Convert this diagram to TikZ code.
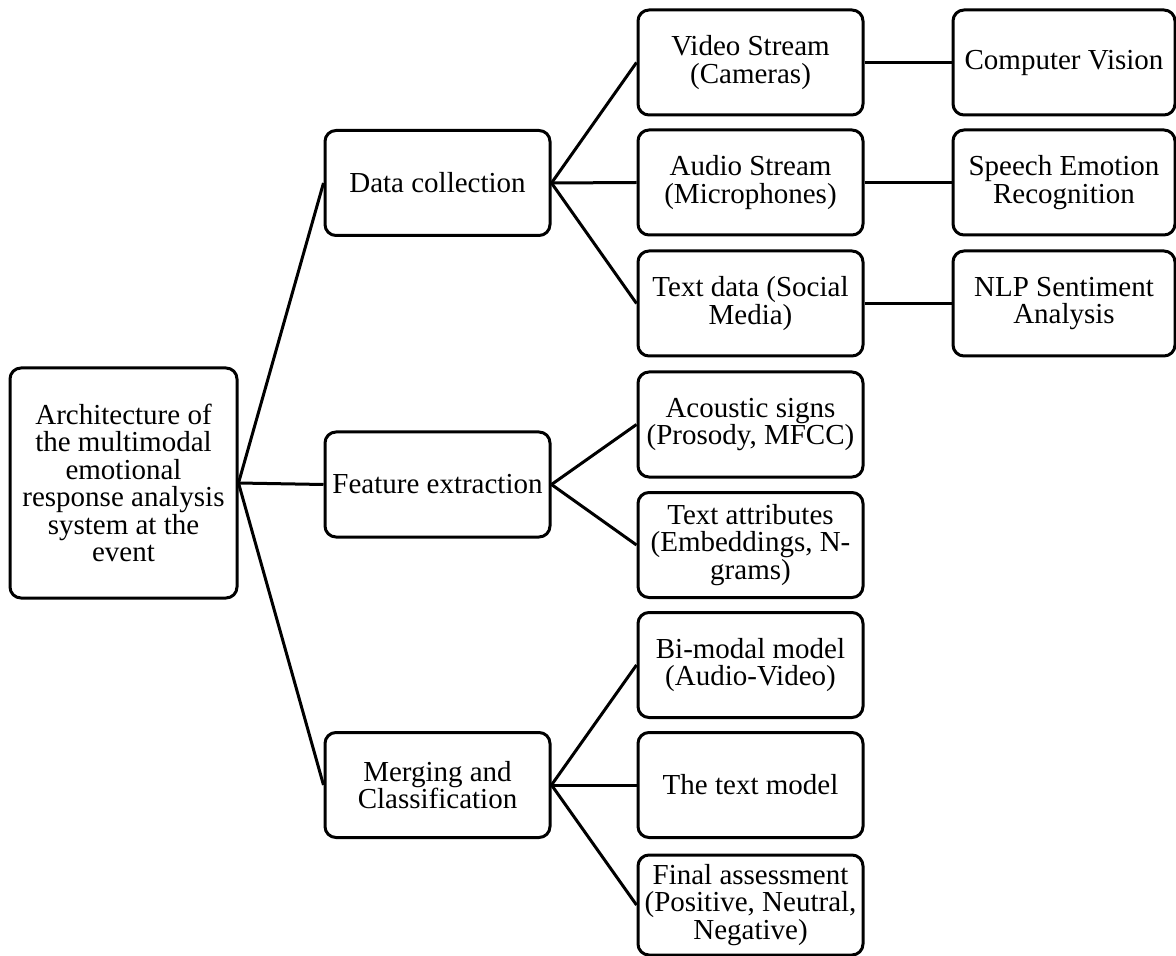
\documentclass[tikz,border=0pt]{standalone}
\usepackage{fontspec}
\setmainfont{Liberation Serif}
\usetikzlibrary{positioning}

\begin{document}
\begin{tikzpicture}[x=0.5pt, y=-0.5pt,
    box/.style={draw, line width=1.5pt, rounded corners=5.5pt, align=center, inner sep=0pt,
      minimum width=112.5pt, minimum height=52.5pt, font=\fontsize{14.5pt}{13.7pt}\selectfont},
    link/.style={line width=1.5pt}]
        \useasboundingbox (0,0) rectangle (1176,956);
        \node[box, minimum width=113.5pt, minimum height=115pt] (root) at (123.5,483) {Architecture of\\the multimodal\\emotional\\response analysis\\system at the\\event};
        \node[box] (collect) at (437.5,183) {Data collection};
        \node[box] (feature) at (437.5,484.5) {Feature extraction};
        \node[box] (merge) at (437.5,785) {Merging and\\Classification};
        \node[box] (video) at (750.5,62.5) {Video Stream\\(Cameras)};
        \node[box] (audio) at (750.5,182.5) {Audio Stream\\(Microphones)};
        \node[box] (textdata) at (750.5,303.5) {Text data (Social\\Media)};
        \node[box] (acoustic) at (750.5,424.5) {Acoustic signs\\(Prosody, MFCC)};
        \node[box] (textattr) at (750.5,545) {Text attributes\\(Embeddings, N-\\grams)};
        \node[box] (bimodal) at (750.5,665) {Bi-modal model\\(Audio-Video)};
        \node[box] (textmodel) at (750.5,785) {The text model};
        \node[box, minimum height=50pt] (final) at (750.5,905) {Final assessment\\(Positive, Neutral,\\Negative)};
        \node[box, minimum width=111pt] (vision) at (1064,62.5) {Computer Vision};
        \node[box, minimum width=111pt] (speech) at (1064,182.5) {Speech Emotion\\Recognition};
        \node[box, minimum width=111pt] (nlp) at (1064,303.5) {NLP Sentiment\\Analysis};
        \draw[link] (root.east) -- (collect.west);
        \draw[link] (root.east) -- (feature.west);
        \draw[link] (root.east) -- (merge.west);
        \draw[link] (collect.east) -- (video.west);
        \draw[link] (collect.east) -- (audio.west);
        \draw[link] (collect.east) -- (textdata.west);
        \draw[link] (feature.east) -- (acoustic.west);
        \draw[link] (feature.east) -- (textattr.west);
        \draw[link] (merge.east) -- (bimodal.west);
        \draw[link] (merge.east) -- (textmodel.west);
        \draw[link] (merge.east) -- (final.west);
        \draw[link] (video.east) -- (vision.west);
        \draw[link] (audio.east) -- (speech.west);
        \draw[link] (textdata.east) -- (nlp.west);
      \end{tikzpicture}
\end{document}
